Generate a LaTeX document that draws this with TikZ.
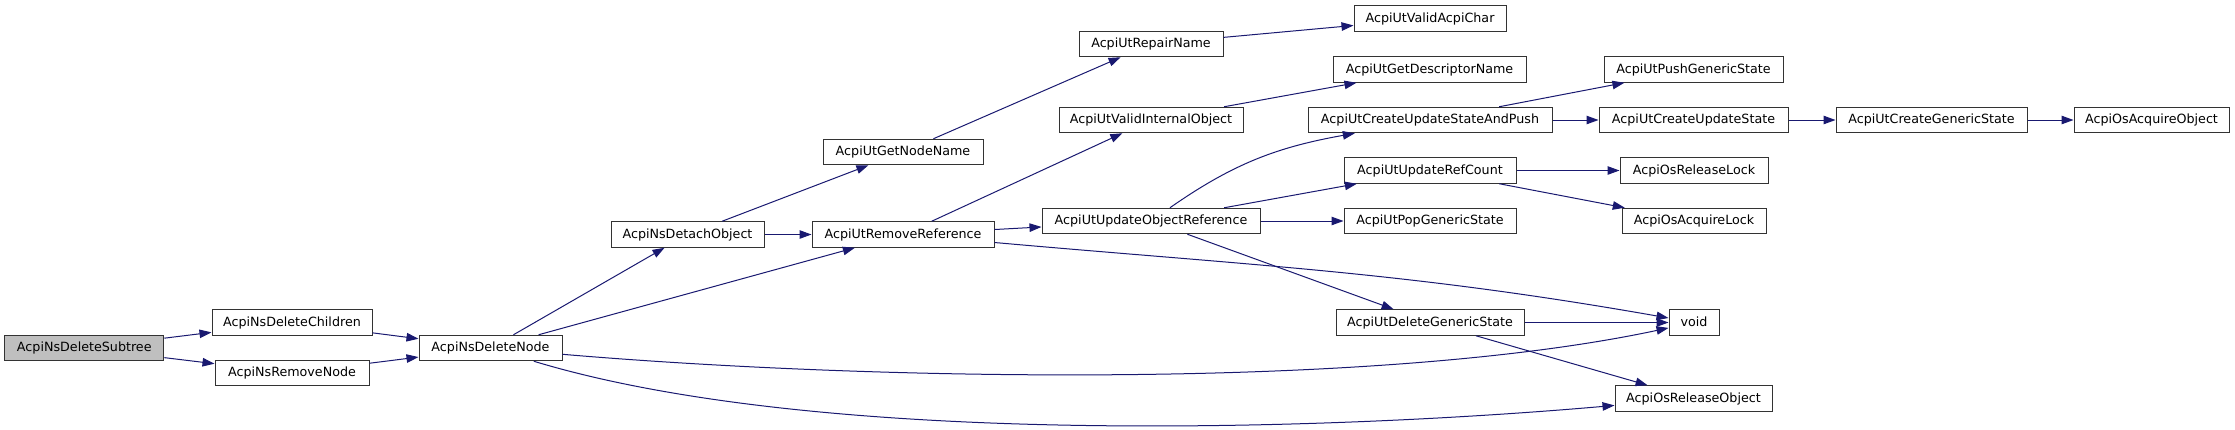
\documentclass[tikz,border=0pt]{standalone}
\usepackage{fontspec}
\setmainfont{DejaVu Sans}
\usetikzlibrary{arrows.meta}
\definecolor{edgeblue}{HTML}{191970}
\definecolor{rootgray}{HTML}{BFBFBF}
\definecolor{boxline}{HTML}{333333}
\tikzset{
  fn/.style={draw=boxline, line width=1pt, fill=white, minimum height=25.5pt, inner xsep=0pt,
    text height=9.3pt, text depth=2pt, font=\fontsize{12.7}{15}\selectfont},
  rootfn/.style={fn, fill=rootgray},
  call/.style={-{Triangle[length=12pt,width=8.5pt]}, draw=edgeblue, line width=1pt}
}
\begin{document}
\begin{tikzpicture}[x=1pt,y=-1pt]
  \useasboundingbox (0,0) rectangle (2235,429);
  % column 1-3
  \node[rootfn, minimum width=159pt] (subtree) at (84.3,348) {AcpiNsDeleteSubtree};
  \node[fn, minimum width=160pt] (delchildren) at (292,322.5) {AcpiNsDeleteChildren};
  \node[fn, minimum width=154pt] (removenode) at (292,373) {AcpiNsRemoveNode};
  \node[fn, minimum width=143pt] (delnode) at (490.5,348) {AcpiNsDeleteNode};
  \node[fn, minimum width=153pt] (detach) at (687.5,234.5) {AcpiNsDetachObject};
  % column 4-5
  \node[fn, minimum width=160pt] (getname) at (903,152) {AcpiUtGetNodeName};
  \node[fn, minimum width=182pt] (removeref) at (903,234.5) {AcpiUtRemoveReference};
  \node[fn, minimum width=144pt] (repair) at (1151,44) {AcpiUtRepairName};
  \node[fn, minimum width=184pt] (validint) at (1151,120) {AcpiUtValidInternalObject};
  \node[fn, minimum width=218pt] (updobj) at (1151,221) {AcpiUtUpdateObjectReference};
  % column 6
  \node[fn, minimum width=152pt] (validchar) at (1430,18.5) {AcpiUtValidAcpiChar};
  \node[fn, minimum width=193pt] (getdesc) at (1429.5,69.5) {AcpiUtGetDescriptorName};
  \node[fn, minimum width=244pt] (cusap) at (1430,120) {AcpiUtCreateUpdateStateAndPush};
  \node[fn, minimum width=172pt] (refcount) at (1430,170.5) {AcpiUtUpdateRefCount};
  \node[fn, minimum width=172pt] (popstate) at (1430,221) {AcpiUtPopGenericState};
  \node[fn, minimum width=188pt] (delstate) at (1430,322.5) {AcpiUtDeleteGenericState};
  % column 7-9
  \node[fn, minimum width=179pt] (pushstate) at (1693.5,69.5) {AcpiUtPushGenericState};
  \node[fn, minimum width=189pt] (createupd) at (1693.5,120) {AcpiUtCreateUpdateState};
  \node[fn, minimum width=148pt] (rellock) at (1694,170.5) {AcpiOsReleaseLock};
  \node[fn, minimum width=144pt] (acqlock) at (1694,221) {AcpiOsAcquireLock};
  \node[fn, minimum width=50pt] (void) at (1694,322.5) {void};
  \node[fn, minimum width=157pt] (relobj) at (1693.5,398.5) {AcpiOsReleaseObject};
  \node[fn, minimum width=191pt] (creategen) at (1931.5,120) {AcpiUtCreateGenericState};
  \node[fn, minimum width=155pt] (acqobj) at (2151.5,120) {AcpiOsAcquireObject};
  % calls
  \draw[call] (subtree) -- (delchildren);
  \draw[call] (subtree) -- (removenode);
  \draw[call] (delchildren) -- (delnode);
  \draw[call] (removenode) -- (delnode);
  \draw[call] (delnode) -- (detach);
  \draw[call] (delnode) -- (removeref);
  \draw[call] (delnode.-5) .. controls (864,380) and (1373,391) .. (void.192);
  \draw[call] (delnode.-17) .. controls (817,447) and (1321,431) .. (relobj.185);
  \draw[call] (detach) -- (getname);
  \draw[call] (detach) -- (removeref);
  \draw[call] (getname) -- (repair);
  \draw[call] (repair) -- (validchar);
  \draw[call] (removeref) -- (validint);
  \draw[call] (removeref) -- (updobj);
  \draw[call] (removeref.-5) .. controls (1259,266) and (1407,272) .. (void.170);
  \draw[call] (validint) -- (getdesc);
  \draw[call] (updobj.35) .. controls (1234,163) and (1278,147) .. (cusap.190);
  \draw[call] (updobj) -- (refcount);
  \draw[call] (updobj) -- (popstate);
  \draw[call] (updobj) -- (delstate);
  \draw[call] (cusap) -- (pushstate);
  \draw[call] (cusap) -- (createupd);
  \draw[call] (createupd) -- (creategen);
  \draw[call] (creategen) -- (acqobj);
  \draw[call] (refcount) -- (rellock);
  \draw[call] (refcount) -- (acqlock);
  \draw[call] (delstate) -- (void);
  \draw[call] (delstate) -- (relobj);
\end{tikzpicture}
\end{document}
